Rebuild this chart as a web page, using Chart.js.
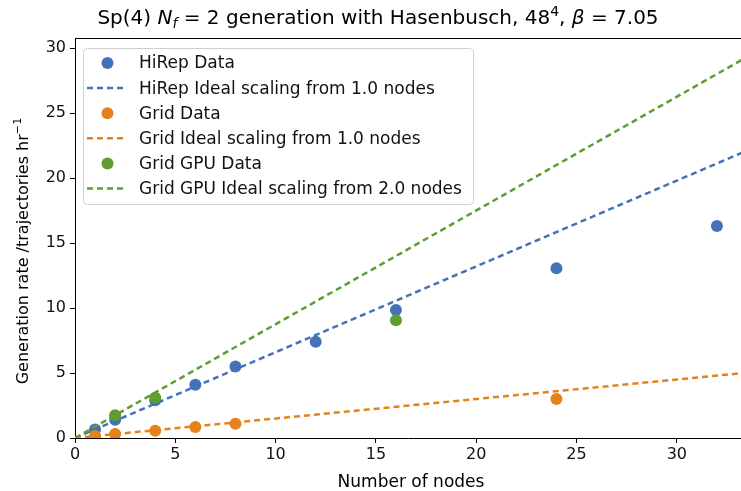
<!DOCTYPE html>
<html>
<head>
<meta charset="utf-8">
<script src="https://cdn.jsdelivr.net/npm/chart.js@4.4.1/dist/chart.umd.min.js"></script>
<style>
    html, body { margin: 0; padding: 0; background: #fff; }
    #wrap { width: 741px; height: 491px; }
</style>
</head>
<body>
<div id="wrap"><canvas id="scalingChart" width="741" height="491"></canvas></div>
<script>
// Node counts and generation rates (trajectories per hour)
const hirepNodes = [1, 2, 4, 6, 8, 12, 16, 24, 32];
const hirepRate = [0.66, 1.4, 2.9, 4.1, 5.5, 7.4, 9.85, 13.05, 16.3];

const gridNodes = [1, 2, 4, 6, 8, 24];
const gridRate = [0.15, 0.3, 0.55, 0.85, 1.1, 3.0];

const gpuNodes = [2, 4, 16];
const gpuRate = [1.75, 3.1, 9.05];

// Ideal scaling lines: endpoints at 0 and 34 nodes
const idealNodes = [0, 34];
const hirepIdeal = [0, 22.44];
const gridIdeal = [0, 5.1];
const gpuIdeal = [0, 29.75];

const yTicks = [0, 5, 10, 15, 20, 25, 30];
const xTicks = [0, 5, 10, 15, 20, 25, 30];

const colors = {
    blue: '#4372b8',
    orange: '#e5821c',
    green: '#5c9e30'
};

const FONT = '"DejaVu Sans", sans-serif';

function toXY(xs, ys) {
    return xs.map((x, i) => ({ x: x, y: ys[i] }));
}

// Draws a run of text pieces with optional italic / sub / sup styling
function drawRich(ctx, parts, x, y, size, align) {
    const measure = p => {
        const s = p.sub || p.sup ? size * 0.7 : size;
        ctx.font = (p.italic ? 'italic ' : '') + s + 'px ' + FONT;
        return ctx.measureText(p.t).width;
    };
    let total = parts.reduce((w, p) => w + measure(p), 0);
    let cx = align === 'center' ? x - total / 2 : x;
    parts.forEach(p => {
        const w = measure(p);
        let dy = 0;
        if (p.sub) dy = size * 0.22;
        if (p.sup) dy = -size * 0.42;
        ctx.fillText(p.t, cx, y + dy);
        cx += w;
    });
}

const extras = {
    id: 'extras',
    afterDraw(chart) {
        const ctx = chart.ctx;
        const area = chart.chartArea;
        ctx.save();
        ctx.fillStyle = '#000';
        ctx.textBaseline = 'alphabetic';
        ctx.textAlign = 'left';

        // top spine
        ctx.strokeStyle = '#000';
        ctx.lineWidth = 1;
        ctx.beginPath();
        ctx.moveTo(area.left, area.top + 0.5);
        ctx.lineTo(area.right, area.top + 0.5);
        ctx.stroke();

        // title
        drawRich(ctx, [
            { t: 'Sp(4) ' },
            { t: 'N', italic: true },
            { t: 'f', italic: true, sub: true },
            { t: ' = 2 generation with Hasenbusch, 48' },
            { t: '4', sup: true },
            { t: ', ' },
            { t: 'β', italic: true },
            { t: ' = 7.05' }
        ], 378, 24, 20, 'center');

        // x axis label
        drawRich(ctx, [{ t: 'Number of nodes' }], 411, 487, 17, 'center');

        // y axis label
        ctx.save();
        ctx.translate(28, 251);
        ctx.rotate(-Math.PI / 2);
        drawRich(ctx, [
            { t: 'Generation rate /trajectories hr' },
            { t: '−1', sup: true }
        ], 0, 0, 16, 'center');
        ctx.restore();

        // legend
        const lx = 83, ly = 48, lw = 390, lh = 156;
        ctx.fillStyle = 'rgba(255,255,255,0.8)';
        ctx.strokeStyle = '#d0d0d0';
        ctx.lineWidth = 1;
        ctx.beginPath();
        ctx.roundRect(lx + 0.5, ly + 0.5, lw, lh, 4);
        ctx.fill();
        ctx.stroke();

        const rows = chart.data.datasets;
        rows.forEach((ds, i) => {
            const ry = 63 + i * 25.1;
            if (ds.showLine) {
                ctx.strokeStyle = ds.borderColor;
                ctx.lineWidth = 2.5;
                ctx.setLineDash([6, 4]);
                ctx.beginPath();
                ctx.moveTo(87, ry);
                ctx.lineTo(123, ry);
                ctx.stroke();
                ctx.setLineDash([]);
            } else {
                ctx.fillStyle = ds.backgroundColor;
                ctx.beginPath();
                ctx.arc(107.5, ry, 6, 0, Math.PI * 2);
                ctx.fill();
            }
            ctx.fillStyle = '#111';
            ctx.font = '17px ' + FONT;
            ctx.textBaseline = 'middle';
            ctx.fillText(ds.label, 139, ry + 1);
        });
        ctx.restore();
    }
};

function dataSet(label, xs, ys, color, order) {
    return {
        label: label,
        data: toXY(xs, ys),
        backgroundColor: color,
        borderColor: color,
        pointRadius: 6,
        pointHoverRadius: 6,
        borderWidth: 0,
        showLine: false,
        order: order
    };
}

function idealSet(label, ys, color, order) {
    return {
        label: label,
        data: toXY(idealNodes, ys),
        borderColor: color,
        backgroundColor: color,
        borderWidth: 2.5,
        borderDash: [6, 4],
        pointRadius: 0,
        showLine: true,
        fill: false,
        order: order
    };
}

const ctx = document.getElementById('scalingChart').getContext('2d');
new Chart(ctx, {
    type: 'scatter',
    data: {
        datasets: [
            dataSet('HiRep Data', hirepNodes, hirepRate, colors.blue, 6),
            idealSet('HiRep Ideal scaling from 1.0 nodes', hirepIdeal, colors.blue, 5),
            dataSet('Grid Data', gridNodes, gridRate, colors.orange, 4),
            idealSet('Grid Ideal scaling from 1.0 nodes', gridIdeal, colors.orange, 3),
            dataSet('Grid GPU Data', gpuNodes, gpuRate, colors.green, 2),
            idealSet('Grid GPU Ideal scaling from 2.0 nodes', gpuIdeal, colors.green, 1)
        ]
    },
    options: {
        responsive: false,
        animation: false,
        layout: { autoPadding: false, padding: { top: 38, right: 0, left: 0, bottom: 0 } },
        plugins: {
            legend: { display: false },
            title: { display: false },
            tooltip: { enabled: false }
        },
        scales: {
            x: {
                type: 'linear',
                min: 0,
                max: 33.2,
                afterFit: s => { s.height = 53; s.paddingRight = 0; s.paddingLeft = 0; },
                afterBuildTicks: s => { s.ticks = xTicks.map(v => ({ value: v })); },
                grid: { drawOnChartArea: false, tickLength: 5, color: '#000', tickWidth: 1 },
                border: { color: '#000', width: 1 },
                ticks: { color: '#111', font: { family: FONT, size: 16 }, padding: 2, maxRotation: 0 }
            },
            y: {
                type: 'linear',
                min: 0,
                max: 30.77,
                afterFit: s => { s.width = 75; },
                afterBuildTicks: s => { s.ticks = yTicks.map(v => ({ value: v })); },
                grid: { drawOnChartArea: false, tickLength: 5, color: '#000', tickWidth: 1 },
                border: { color: '#000', width: 1 },
                ticks: { color: '#111', font: { family: FONT, size: 16 }, padding: 4 }
            }
        }
    },
    plugins: [extras]
});
</script>
</body>
</html>
